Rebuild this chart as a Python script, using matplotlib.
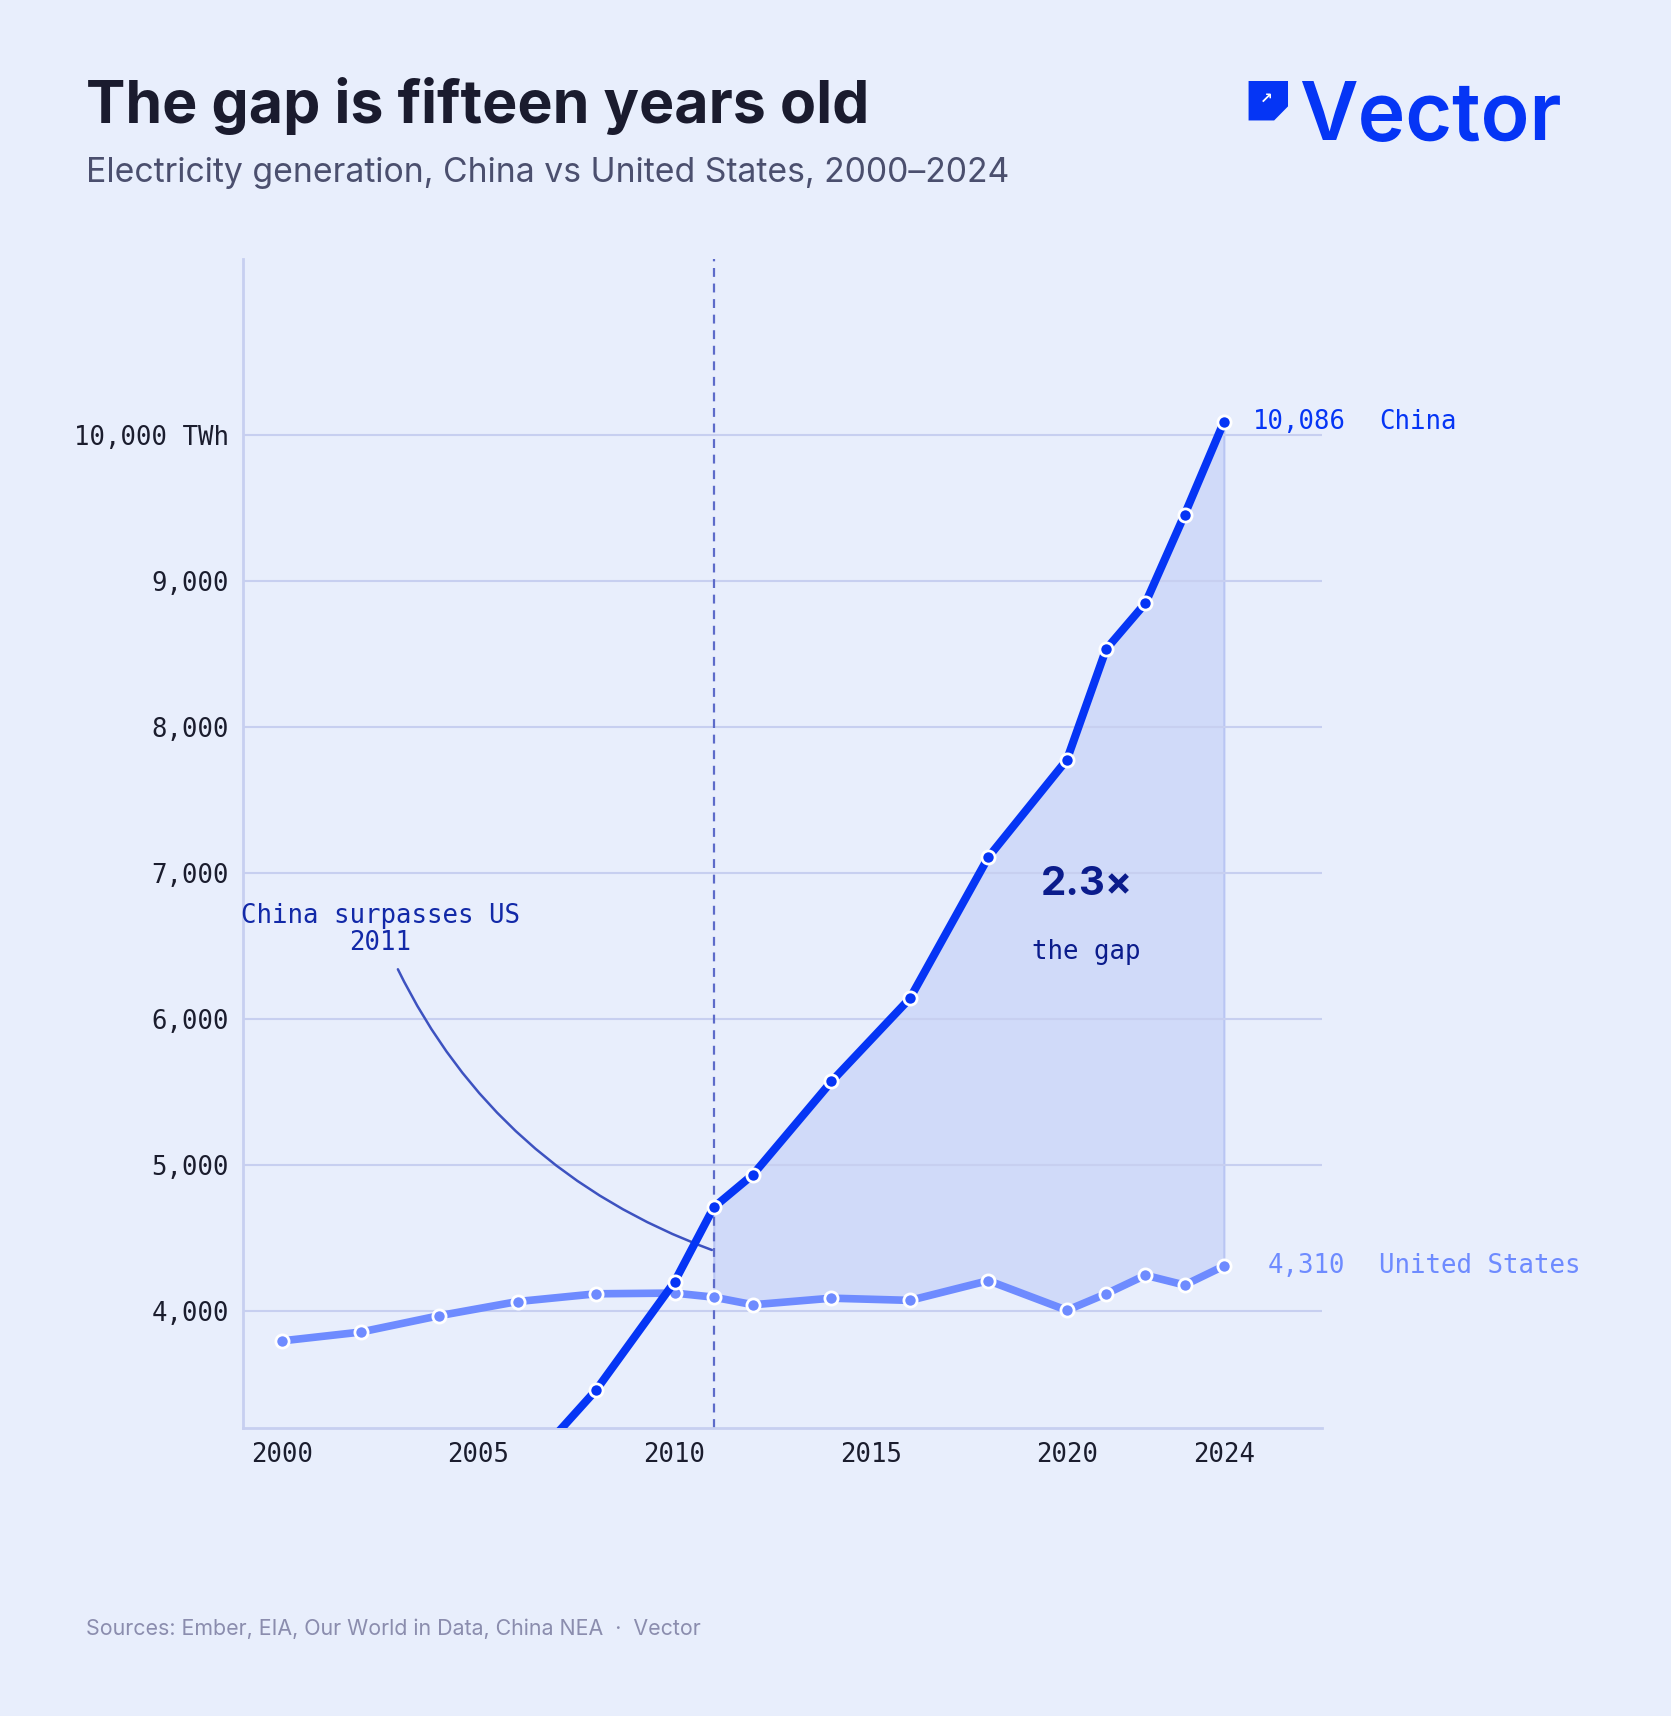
import matplotlib
matplotlib.use("Agg")
import matplotlib.pyplot as plt
from matplotlib.patches import Polygon

# data (TWh)
china_years = [2000, 2002, 2004, 2006, 2008, 2010, 2011, 2012, 2014, 2016, 2018, 2020, 2021, 2022, 2023, 2024]
china_twh = [1356, 1654, 2200, 2865, 3461, 4202, 4712, 4936, 5573, 6142, 7109, 7775, 8532, 8846, 9453, 10086]
us_years = [2000, 2002, 2004, 2006, 2008, 2010, 2011, 2012, 2014, 2016, 2018, 2020, 2021, 2022, 2023, 2024]
us_twh = [3798, 3858, 3970, 4067, 4120, 4125, 4097, 4045, 4090, 4075, 4210, 4007, 4120, 4247, 4180, 4310]

x_ticks = [2000, 2005, 2010, 2015, 2020, 2024]
y_ticks = [4000, 5000, 6000, 7000, 8000, 9000, 10000]
y_labels = ["4,000", "5,000", "6,000", "7,000", "8,000", "9,000", "10,000 TWh"]

BG = "#e8eefc"
CHINA = "#0535f5"
US = "#6e8bff"
GRID = "#c7cff0"
NAVY = "#0b1c8c"
MONO = "DejaVu Sans Mono"
SANS = "Inter"

fig = plt.figure(figsize=(16.71, 17.16), dpi=100, facecolor=BG)
ax = fig.add_axes([0.1454, 0.1677, 0.6457, 0.6812])
ax.set_facecolor(BG)

# gap shading from the crossover onward
i0 = china_years.index(2011)
ax.fill_between(china_years[i0:], us_twh[i0:], china_twh[i0:], color="#d0daf9",
                edgecolor="#b9c5f3", linewidth=1.5, zorder=1)

ax.axvline(2011, color="#5d6bc9", lw=1.6, ls=(0, (4, 3)), zorder=2)

ax.plot(us_years, us_twh, color=US, lw=5.5, zorder=3, solid_capstyle="round",
        marker="o", ms=9.5, mfc=US, mec="white", mew=2)
ax.plot(china_years, china_twh, color=CHINA, lw=5.8, zorder=4, solid_capstyle="butt",
        marker="o", ms=9.5, mfc=CHINA, mec="white", mew=2)

ax.set_xlim(1999, 2026.5)
ax.set_ylim(3200, 11200)
ax.set_xticks(x_ticks)
ax.set_xticklabels([str(y) for y in x_ticks], fontfamily=MONO, fontsize=18.5, color="#1b1d2e")
ax.set_yticks(y_ticks)
ax.set_yticklabels(y_labels, fontfamily=MONO, fontsize=18.5, color="#1b1d2e")
ax.tick_params(length=0, pad=10)
ax.grid(axis="y", color=GRID, lw=1.5, zorder=0)
for side in ["top", "right"]:
    ax.spines[side].set_visible(False)
for side in ["left", "bottom"]:
    ax.spines[side].set_color(GRID)
    ax.spines[side].set_linewidth(2)

# end labels
ax.text(2027.1, china_twh[-1], f"{china_twh[-1]:,}", ha="right", va="center",
        fontfamily=MONO, fontsize=18.5, color=CHINA, clip_on=False)
ax.text(2027.95, china_twh[-1], "China", ha="left", va="center",
        fontfamily=MONO, fontsize=18.5, color=CHINA, clip_on=False)
ax.text(2027.1, us_twh[-1], f"{us_twh[-1]:,}", ha="right", va="center",
        fontfamily=MONO, fontsize=18.5, color=US, clip_on=False)
ax.text(2027.95, us_twh[-1], "United States", ha="left", va="center",
        fontfamily=MONO, fontsize=18.5, color=US, clip_on=False)

# gap callout
ax.text(2020.5, 6920, "2.3×", ha="center", va="center", fontfamily=SANS,
        fontweight="bold", fontsize=29, color=NAVY)
ax.text(2020.5, 6460, "the gap", ha="center", va="center", fontfamily=MONO,
        fontsize=18.5, color=NAVY)

ax.annotate("China surpasses US\n2011", xy=(2010.95, 4420), xytext=(2002.5, 6610),
            ha="center", va="center", fontfamily=MONO, fontsize=18.5, color="#1229a8",
            linespacing=1.05,
            arrowprops=dict(arrowstyle="-", color="#3d52c0", lw=1.8,
                            connectionstyle="arc3,rad=0.22", shrinkA=8, shrinkB=0))

# header
fig.text(0.0517, 0.9286, "The gap is fifteen years old", fontfamily=SANS,
         fontweight="bold", fontsize=42.5, color="#1a1b2e", va="baseline")
fig.text(0.0517, 0.8941, "Electricity generation, China vs United States, 2000–2024",
         fontfamily=SANS, fontsize=24.3, color="#4b4f6e", va="baseline")

# logo
icon = Polygon([(0.7472, 0.9528), (0.7708, 0.9528), (0.7708, 0.9380),
                (0.7625, 0.9298), (0.7472, 0.9298)], closed=True,
               transform=fig.transFigure, facecolor=CHINA, edgecolor="none")
fig.patches.append(icon)
fig.text(0.7578, 0.9425, "↗", fontfamily="DejaVu Sans", fontweight="bold",
         fontsize=11, color="white", ha="center", va="center")
fig.text(0.7775, 0.9184, "Vector", fontfamily=SANS, fontweight="semibold",
         fontsize=58, color=CHINA, va="baseline")

fig.text(0.0517, 0.0472, "Sources: Ember, EIA, Our World in Data, China NEA  ·  Vector",
         fontfamily=SANS, fontsize=15.4, color="#8b8dae", va="baseline")

fig.savefig("out.png", dpi=100, facecolor=BG)
